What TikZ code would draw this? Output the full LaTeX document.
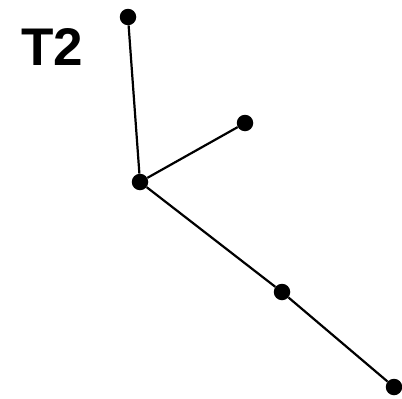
\documentclass[tikz,border=0pt]{standalone}
\usepackage{fontspec}
\setmainfont{Liberation Sans}
\begin{document}
\begin{tikzpicture}[x=1pt,y=-1pt,
  dot/.style={circle,fill=black,draw=none,minimum size=16.5pt,inner sep=0pt},
  edge/.style={line width=2.2pt,black}]
\useasboundingbox (0,0) rectangle (402,399);
\node[anchor=base west,inner sep=0pt,font=\fontsize{53}{53}\selectfont\bfseries] (lbl) at (21,65) {T2};
\node[dot] (top) at (128,17) {};
\node[dot] (c) at (140,182) {};
\node[dot] (r) at (245,123) {};
\node[dot] (m) at (282,292) {};
\node[dot] (b) at (394,387) {};
\draw[edge] (top) -- (c);
\draw[edge] (c) -- (r);
\draw[edge] (c) -- (m);
\draw[edge] (m) -- (b);
\end{tikzpicture}
\end{document}
